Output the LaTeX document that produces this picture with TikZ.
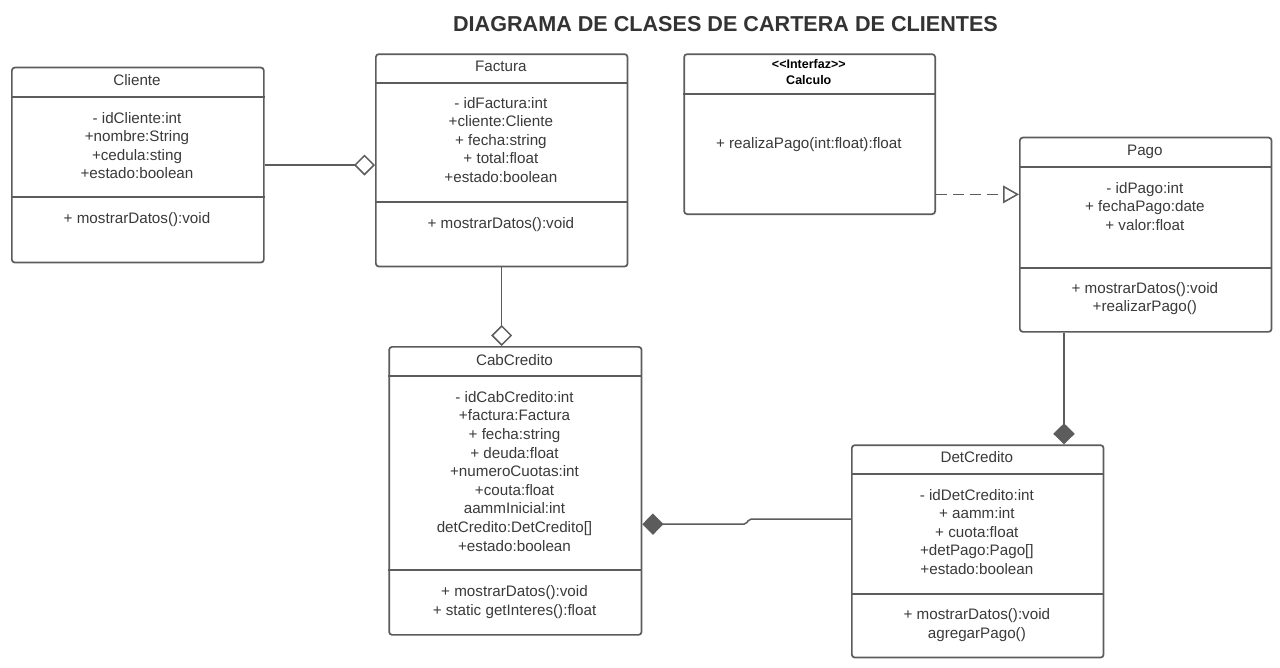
\documentclass[tikz,border=0pt]{standalone}
\usepackage{fontspec}
\setmainfont{Liberation Sans}
\usetikzlibrary{arrows.meta}
\definecolor{linea}{HTML}{5C5C5C}
\definecolor{tinta}{HTML}{3A3A3A}
\definecolor{tintatit}{HTML}{333333}

\begin{document}
\begin{tikzpicture}[x=1pt, y=-1pt,
    clase/.style={draw=linea, line width=1.7pt, rounded corners=3pt, anchor=north west, inner sep=0pt},
    divisor/.style={draw=linea, line width=1.7pt},
    texto/.style={font=\fontsize{15.2}{18.5}\selectfont, text=tinta, anchor=base, inner sep=0pt},
    interfaz/.style={font=\bfseries\fontsize{12.5}{15}\selectfont, text=black, anchor=base, inner sep=0pt},
    titulo/.style={font=\bfseries\fontsize{21.6}{26}\selectfont, text=tintatit, anchor=base, inner sep=0pt},
    agrega/.style={draw=linea, line width=1.5pt, -{Diamond[open, length=21pt, width=21pt]}},
    compone/.style={draw=linea, line width=1.5pt, -{Diamond[length=21pt, width=21.5pt, fill=linea]}},
    implementa/.style={draw=linea, line width=1.5pt, dash pattern=on 11pt off 6pt, -{Triangle[open, length=16pt, width=17.7pt]}}]
    \fill[white] (0,0) rectangle (1280,667);

    \node[titulo] (titulo) at (725.5,31.7) {DIAGRAMA DE CLASES DE CARTERA DE CLIENTES};

    % Cliente
    \node[clase, minimum width=252, minimum height=195] (cliente) at (11,66.7) {};
    \draw[divisor] ([yshift=-30pt]cliente.north west) -- ([yshift=-30pt]cliente.north east);
    \draw[divisor] ([yshift=-130pt]cliente.north west) -- ([yshift=-130pt]cliente.north east);
    \node[texto] (cli-t) at (137,85.7) {Cliente};
    \foreach \txt [count=\i from 0] in {- idCliente:int, +nombre:String, +cedula:sting, +estado:boolean}
        \node[texto] (cli-a\i) at (137,123.3+18.4*\i) {\txt};
    \node[texto] (cli-m0) at (137,223.3) {+ mostrarDatos():void};

    % Factura
    \node[clase, minimum width=251.7, minimum height=212.4] (factura) at (375,53.3) {};
    \draw[divisor] ([yshift=-29.4pt]factura.north west) -- ([yshift=-29.4pt]factura.north east);
    \draw[divisor] ([yshift=-149pt]factura.north west) -- ([yshift=-149pt]factura.north east);
    \node[texto] (fac-t) at (500.85,71.7) {Factura};
    \foreach \txt [count=\i from 0] in {- idFactura:int, +cliente:Cliente, + fecha:string, + total:float, +estado:boolean}
        \node[texto] (fac-a\i) at (500.85,108.3+18.5*\i) {\txt};
    \node[texto] (fac-m0) at (500.85,228.3) {+ mostrarDatos():void};

    % Calculo
    \node[clase, minimum width=251, minimum height=160] (calculo) at (683.3,53.3) {};
    \draw[divisor] ([yshift=-41pt]calculo.north west) -- ([yshift=-41pt]calculo.north east);
    \node[interfaz] (cal-s) at (808.8,68.3) {<\kern0pt<Interfaz>\kern0pt>};
    \node[interfaz] (cal-t) at (808.8,84) {Calculo};
    \node[texto] (cal-m0) at (808.8,148.3) {+ realizaPago(int:float):float};

    % Pago
    \node[clase, minimum width=251.7, minimum height=194.3] (pago) at (1019,136.7) {};
    \draw[divisor] ([yshift=-30pt]pago.north west) -- ([yshift=-30pt]pago.north east);
    \draw[divisor] ([yshift=-131pt]pago.north west) -- ([yshift=-131pt]pago.north east);
    \node[texto] (pag-t) at (1144.85,155) {Pago};
    \foreach \txt [count=\i from 0] in {- idPago:int, + fechaPago:date, + valor:float}
        \node[texto] (pag-a\i) at (1144.85,193.3+18.4*\i) {\txt};
    \foreach \txt [count=\i from 0] in {+ mostrarDatos():void, +realizarPago()}
        \node[texto] (pag-m\i) at (1144.85,293.3+18.4*\i) {\txt};

    % CabCredito
    \node[clase, minimum width=252.4, minimum height=288] (cabcredito) at (388.3,346) {};
    \draw[divisor] ([yshift=-30pt]cabcredito.north west) -- ([yshift=-30pt]cabcredito.north east);
    \draw[divisor] ([yshift=-224pt]cabcredito.north west) -- ([yshift=-224pt]cabcredito.north east);
    \node[texto] (cab-t) at (514.5,365) {CabCredito};
    \foreach \txt [count=\i from 0] in {- idCabCredito:int, +factura:Factura, + fecha:string, + deuda:float,
            +numeroCuotas:int, +couta:float, aammInicial:int, {detCredito:DetCredito[]}, +estado:boolean}
        \node[texto] (cab-a\i) at (514.5,402.3+18.6*\i) {\txt};
    \foreach \txt [count=\i from 0] in {+ mostrarDatos():void, + static getInteres():float}
        \node[texto] (cab-m\i) at (514.5,596+19*\i) {\txt};

    % DetCredito
    \node[clase, minimum width=251.7, minimum height=212.4] (detcredito) at (851,444.3) {};
    \draw[divisor] ([yshift=-30pt]detcredito.north west) -- ([yshift=-30pt]detcredito.north east);
    \draw[divisor] ([yshift=-149.7pt]detcredito.north west) -- ([yshift=-149.7pt]detcredito.north east);
    \node[texto] (det-t) at (976.85,462.7) {DetCredito};
    \foreach \txt [count=\i from 0] in {- idDetCredito:int, + aamm:int, + cuota:float, {+detPago:Pago[]}, +estado:boolean}
        \node[texto] (det-a\i) at (976.85,500+18.6*\i) {\txt};
    \foreach \txt [count=\i from 0] in {+ mostrarDatos():void, agregarPago()}
        \node[texto] (det-m\i) at (976.85,619.3+19*\i) {\txt};

    % relaciones
    \coordinate (calc-sal) at ([yshift=20.6pt]calculo.south east);
    \coordinate (pago-sal) at ([xshift=45pt]pago.south west);
    \coordinate (cab-ent) at ([yshift=-33.3pt]cabcredito.east);
    \coordinate (det-sal) at ([yshift=32.2pt]detcredito.west);
    \draw[agrega] (cliente.east) -- (cliente.east -| factura.west);
    \draw[agrega] (factura.south) -- (factura.south |- cabcredito.north);
    \draw[implementa] (calc-sal) -- (calc-sal -| pago.west);
    \draw[compone] (pago-sal) -- (pago-sal |- detcredito.north);
    \draw[compone, rounded corners=2pt] (det-sal) -- ++(-102,0) -- ++(-3,5) -- (cab-ent);
\end{tikzpicture}
\end{document}
